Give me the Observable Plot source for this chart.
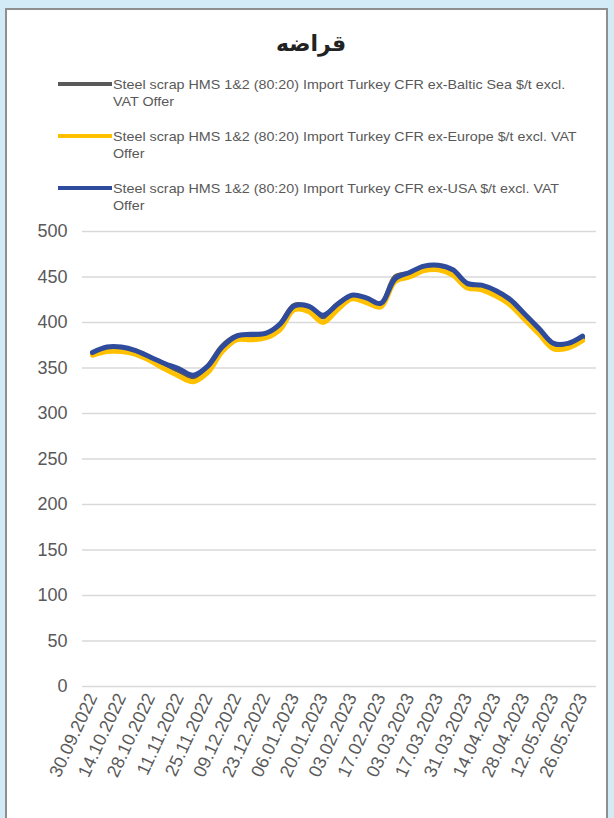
<!DOCTYPE html>
<html>
<head>
<meta charset="utf-8">
<script src="https://cdn.jsdelivr.net/npm/d3@7"></script>
<script src="https://cdn.jsdelivr.net/npm/@observablehq/plot@0.6"></script>
<style>
  html, body { margin: 0; padding: 0; }
  body { width: 614px; height: 818px; background: #d3ebf7; position: relative; overflow: hidden; font-family: "Liberation Sans", Arial, sans-serif; }
  #panel { position: absolute; left: 5px; top: 8px; width: 603px; height: 830px; background: #fff; border: 2px solid #8f8f8f; box-sizing: border-box; }
  #title { position: absolute; left: 4px; width: 614px; top: 31px; text-align: center; font-family: "DejaVu Sans", sans-serif; font-weight: bold; font-size: 22px; color: #222; }
  .leg { position: absolute; left: 58px; width: 540px; font-size: 13px; line-height: 17px; color: #595959; }
  .leg .sw { position: absolute; left: 0; top: 6px; width: 54px; height: 4px; }
  .leg .tx { position: absolute; left: 55px; width: 425px; transform: scaleX(1.1); transform-origin: left top; }
  #chart { position: absolute; left: 0; top: 215px; }
</style>
</head>
<body>
<div id="panel"></div>
<div id="title">قراضه</div>
<div id="legend"></div>
<div id="chart"></div>
<script>
const seriesNames = [
  "Steel scrap HMS 1&2 (80:20) Import Turkey CFR ex-Baltic Sea $/t excl. VAT Offer",
  "Steel scrap HMS 1&2 (80:20) Import Turkey CFR ex-Europe $/t excl. VAT Offer",
  "Steel scrap HMS 1&2 (80:20) Import Turkey CFR ex-USA $/t excl. VAT Offer"
];
const seriesColors = ["#595959", "#ffc000", "#2f4b9c"];

const dates = [
  "30.09.2022","07.10.2022","14.10.2022","21.10.2022","28.10.2022","04.11.2022","11.11.2022","18.11.2022",
  "25.11.2022","02.12.2022","09.12.2022","16.12.2022","23.12.2022","30.12.2022","06.01.2023","13.01.2023",
  "20.01.2023","27.01.2023","03.02.2023","10.02.2023","17.02.2023","24.02.2023","03.03.2023","10.03.2023",
  "17.03.2023","24.03.2023","31.03.2023","07.04.2023","14.04.2023","21.04.2023","28.04.2023","05.05.2023",
  "12.05.2023","19.05.2023","26.05.2023"
];
const baltic = [366,372,372,368,361,354,347,340,352,374,385,386,387,398,419,417,406,420,429,425,419,450,454,460,461,456,441,439,433,423,407,391,375,376,383];
const europe = [364,368,368,365,358,349,341,335,345,368,381,381,383,392,414,412,400,414,426,422,417,445,450,457,458,452,438,436,429,419,403,387,371,372,380];
const usa    = [367,373,373,369,362,355,349,342,352,373,385,387,388,398,418,418,408,420,430,427,421,448,455,462,463,458,443,441,435,425,409,393,377,377,385];

const tickLabels = ["30.09.2022","14.10.2022","28.10.2022","11.11.2022","25.11.2022","09.12.2022","23.12.2022",
  "06.01.2023","20.01.2023","03.02.2023","17.02.2023","03.03.2023","17.03.2023","31.03.2023","14.04.2023",
  "28.04.2023","12.05.2023","26.05.2023"];
const yTicks = [0,50,100,150,200,250,300,350,400,450,500];

const parse = d3.utcParse("%d.%m.%Y");
const fmt = d3.utcFormat("%d.%m.%Y");
const valueSets = [baltic, europe, usa];
const rows = [];
valueSets.forEach((vals, s) => vals.forEach((v, i) => rows.push({date: parse(dates[i]), value: v, series: seriesNames[s]})));

// legend
const legend = document.getElementById("legend");
seriesNames.forEach((name, i) => {
  const d = document.createElement("div");
  d.className = "leg";
  d.style.top = (76 + i * 52) + "px";
  d.innerHTML = `<div class="sw" style="background:${seriesColors[i]}"></div><div class="tx"></div>`;
  d.querySelector(".tx").textContent = name;
  legend.appendChild(d);
});

const chart = Plot.plot({
  width: 614,
  height: 603,
  marginTop: 16,
  marginBottom: 132,
  marginLeft: 82,
  marginRight: 18,
  style: {fontFamily: "'Liberation Sans', Arial, sans-serif", fontSize: "18px", color: "#595959", background: "transparent"},
  x: {type: "utc", domain: [parse(dates[0]), parse(dates[dates.length - 1])], insetLeft: 10, insetRight: 14},
  y: {domain: [0, 500]},
  color: {domain: seriesNames, range: seriesColors},
  marks: [
    Plot.ruleY(yTicks, {stroke: "#d9d9d9", strokeWidth: 1.5}),
    Plot.axisY({ticks: yTicks, tickSize: 0, tickPadding: 15, label: null, fontSize: 18, fill: "#595959"}),
    Plot.axisX({ticks: tickLabels.map(parse), tickFormat: fmt, tickSize: 0, tickPadding: 8, tickRotate: -65, label: null, fontSize: 18, fill: "#595959"}),
    Plot.line(rows, {x: "date", y: "value", z: "series", stroke: "series", strokeWidth: 5, curve: "catmull-rom"})
  ]
});
document.getElementById("chart").appendChild(chart);
</script>
</body>
</html>
